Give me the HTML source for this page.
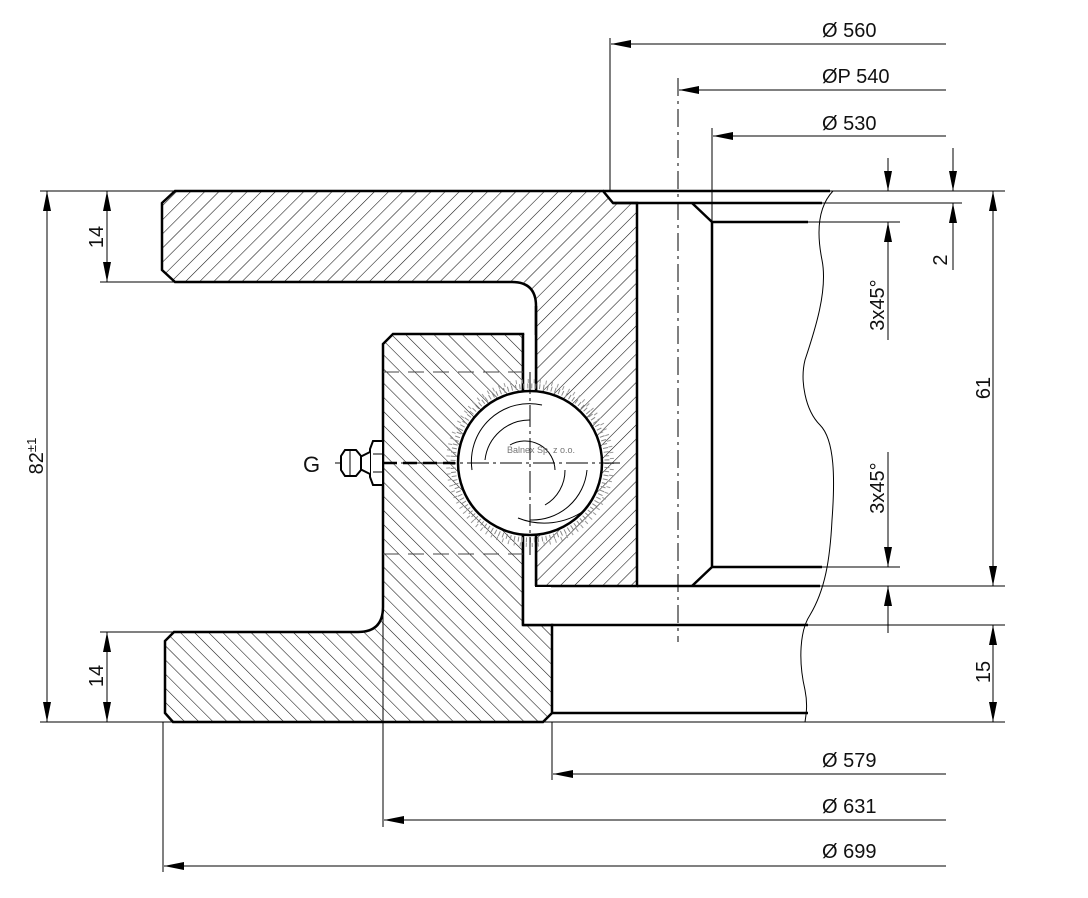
<!DOCTYPE html>
<html><head><meta charset="utf-8"><style>
html,body{margin:0;padding:0;background:#fff;}
svg{display:block;}
text{font-family:"Liberation Sans",sans-serif;fill:#111;}
</style></head><body>
<svg width="1088" height="898" viewBox="0 0 1088 898" xmlns="http://www.w3.org/2000/svg">
<defs>
<pattern id="h1" patternUnits="userSpaceOnUse" width="10" height="10" patternTransform="rotate(45)">
<line x1="0" y1="0" x2="0" y2="10" stroke="#111" stroke-width="1.1"/></pattern>
<pattern id="h2" patternUnits="userSpaceOnUse" width="10" height="10" patternTransform="rotate(-45)">
<line x1="0" y1="0" x2="0" y2="10" stroke="#111" stroke-width="1.1"/></pattern>
<marker id="a" viewBox="0 0 20 8" refX="20" refY="4" markerWidth="20" markerHeight="8" markerUnits="userSpaceOnUse" orient="auto-start-reverse"><path d="M0,0 L20,4 L0,8 z" fill="#000"/></marker>
</defs>

<!-- outer ring -->
<path d="M175,191 L603,191 L613,203 L637,203 L637,586 L536,586 L536,306 Q536,282 512,282 L175,282 L162,270 L162,203 Z" fill="url(#h1)" stroke="#000" stroke-width="2.5"/>
<!-- inner ring -->
<path d="M393,334 L523,334 L523,625 L552,625 L552,713 L543,722 L173,722 L165,713 L165,641 L174,632 L358,632 Q383,632 383,607 L383,344 Z" fill="url(#h2)" stroke="#000" stroke-width="2.5"/>
<rect x="524" y="587" width="27" height="37" fill="#fff"/>
<rect x="524" y="335" width="11" height="252" fill="#fff"/>
<line x1="523" y1="334" x2="523" y2="625" stroke="#000" stroke-width="2.5"/>
<line x1="536" y1="306" x2="536" y2="586" stroke="#000" stroke-width="2.5"/>

<g stroke="#444" stroke-width="1" stroke-dasharray="16,9">
<line x1="383" y1="372" x2="523" y2="372"/><line x1="383" y1="554" x2="523" y2="554"/>
</g>

<!-- stipple around ball -->
<circle cx="530" cy="463" r="77" fill="none" stroke="#888" stroke-width="5" stroke-dasharray="1,3"/>
<circle cx="530" cy="463" r="82" fill="none" stroke="#999" stroke-width="4" stroke-dasharray="1,5"/>
<circle cx="530" cy="463" r="72" fill="#fff" stroke="#000" stroke-width="2.5"/>
<g fill="none" stroke="#000" stroke-width="1">
<path d="M472,470 A58,58 0 0 1 542,405"/>
<path d="M485,460 A45,45 0 0 1 530,420"/>
<path d="M510,445 A30,30 0 0 1 555,470"/>
<path d="M545,505 A40,40 0 0 0 565,470"/>
<path d="M530,520 A55,55 0 0 0 587,470"/>
<path d="M518,518 A70,70 0 0 0 585,510"/>
</g>
<g stroke="#000" stroke-width="1" stroke-dasharray="22,4,3,4">
<line x1="530" y1="372" x2="530" y2="555"/>
<line x1="335" y1="463" x2="620" y2="463"/>
</g>
<line x1="383" y1="463" x2="455" y2="463" stroke="#000" stroke-width="2.5" stroke-dasharray="14,6"/>
<text x="507" y="453" font-size="9" style="fill:#777">Balnex Sp. z o.o.</text>

<!-- grease fitting -->
<g fill="#fff" stroke="#000" stroke-width="2">
<path d="M373,441 L383,441 L383,485 L373,485 L370,477 L370,449 Z"/>
<path d="M370,452 L360,457 L360,469 L370,474"/>
<path d="M345,450 L356,450 L361,456 L361,470 L356,476 L345,476 L341,470 L341,456 Z"/>
</g>
<line x1="350" y1="450" x2="350" y2="476" stroke="#000"/>
<line x1="373" y1="454" x2="383" y2="454" stroke="#000"/><line x1="373" y1="472" x2="383" y2="472" stroke="#000"/>
<text x="303" y="472" font-size="22">G</text>

<g stroke="#000" stroke-width="2.5" fill="none">
<line x1="603" y1="191" x2="830" y2="191"/>
<line x1="613" y1="203" x2="822" y2="203"/>
<path d="M692,203 L712,222 L712,567 L692,586"/>
<line x1="712" y1="222" x2="808" y2="222"/>
<line x1="712" y1="567" x2="822" y2="567"/>
<line x1="637" y1="586" x2="820" y2="586"/>
<line x1="523" y1="625" x2="808" y2="625"/>
<line x1="552" y1="713" x2="808" y2="713"/>
</g>
<path d="M833,191 C815,210 818,240 822,260 C828,290 815,330 805,360 C800,380 805,410 820,425 C835,440 835,480 832,520 C830,560 825,590 810,615 C800,630 798,660 805,690 C808,705 806,715 805,722" fill="none" stroke="#000" stroke-width="1"/>
<line x1="678" y1="78" x2="678" y2="642" stroke="#000" stroke-width="1" stroke-dasharray="18,5,3,5"/>

<g stroke="#000" stroke-width="1">
<line x1="40" y1="191" x2="175" y2="191"/>
<line x1="40" y1="722" x2="1005" y2="722"/>
<line x1="100" y1="282" x2="175" y2="282"/>
<line x1="100" y1="632" x2="174" y2="632"/>
<line x1="830" y1="191" x2="1005" y2="191"/>
<line x1="822" y1="203" x2="962" y2="203"/>
<line x1="808" y1="222" x2="900" y2="222"/>
<line x1="822" y1="567" x2="900" y2="567"/>
<line x1="820" y1="586" x2="1005" y2="586"/>
<line x1="808" y1="625" x2="1005" y2="625"/>
<line x1="610" y1="38" x2="610" y2="191"/>
<line x1="712" y1="128" x2="712" y2="222"/>
<line x1="552" y1="722" x2="552" y2="780"/>
<line x1="383" y1="607" x2="383" y2="827"/>
<line x1="163" y1="722" x2="163" y2="872"/>
</g>

<g stroke="#000" stroke-width="1" fill="none">
<line x1="946" y1="44" x2="611" y2="44" marker-end="url(#a)"/>
<line x1="946" y1="90" x2="679" y2="90" marker-end="url(#a)"/>
<line x1="946" y1="136" x2="713" y2="136" marker-end="url(#a)"/>
<line x1="946" y1="774" x2="553" y2="774" marker-end="url(#a)"/>
<line x1="946" y1="820" x2="384" y2="820" marker-end="url(#a)"/>
<line x1="946" y1="866" x2="164" y2="866" marker-end="url(#a)"/>
<line x1="47" y1="191" x2="47" y2="722" marker-start="url(#a)" marker-end="url(#a)"/>
<line x1="107" y1="191" x2="107" y2="282" marker-start="url(#a)" marker-end="url(#a)"/>
<line x1="107" y1="632" x2="107" y2="722" marker-start="url(#a)" marker-end="url(#a)"/>
<line x1="953" y1="148" x2="953" y2="191" marker-end="url(#a)"/>
<line x1="953" y1="270" x2="953" y2="203" marker-end="url(#a)"/>
<line x1="888" y1="158" x2="888" y2="191" marker-end="url(#a)"/>
<line x1="888" y1="340" x2="888" y2="222" marker-end="url(#a)"/>
<line x1="888" y1="452" x2="888" y2="567" marker-end="url(#a)"/>
<line x1="888" y1="633" x2="888" y2="586" marker-end="url(#a)"/>
<line x1="993" y1="191" x2="993" y2="586" marker-start="url(#a)" marker-end="url(#a)"/>
<line x1="993" y1="625" x2="993" y2="722" marker-start="url(#a)" marker-end="url(#a)"/>
</g>

<g font-size="20">
<text x="822" y="37">Ø 560</text>
<text x="822" y="83">ØP 540</text>
<text x="822" y="130">Ø 530</text>
<text x="822" y="767">Ø 579</text>
<text x="822" y="813">Ø 631</text>
<text x="822" y="858">Ø 699</text>
<text transform="translate(103,237) rotate(-90)" text-anchor="middle">14</text>
<text transform="translate(103,676) rotate(-90)" text-anchor="middle">14</text>
<text transform="translate(43,456) rotate(-90)" text-anchor="middle">82<tspan font-size="13" dy="-7">±1</tspan></text>
<text transform="translate(947,260) rotate(-90)" text-anchor="middle">2</text>
<text transform="translate(884,305) rotate(-90)" text-anchor="middle">3x45°</text>
<text transform="translate(884,488) rotate(-90)" text-anchor="middle">3x45°</text>
<text transform="translate(990,388) rotate(-90)" text-anchor="middle">61</text>
<text transform="translate(990,672) rotate(-90)" text-anchor="middle">15</text>
</g>
</svg>
</body></html>
